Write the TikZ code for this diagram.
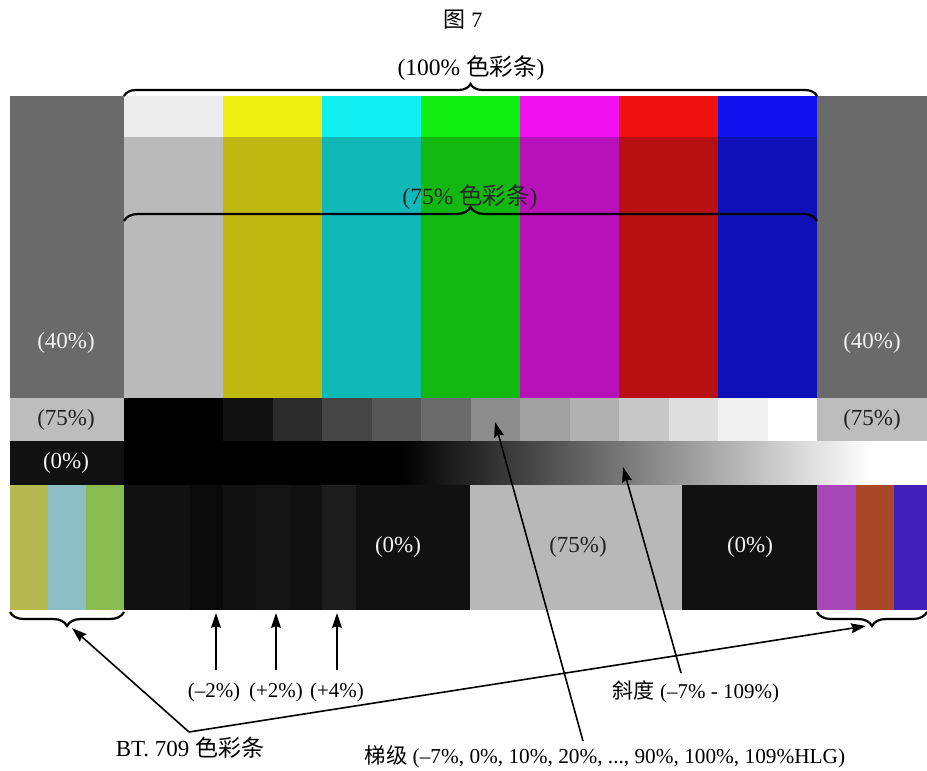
\documentclass[tikz,border=0pt]{standalone}
\usepackage{fontspec}
\setmainfont{Liberation Serif}
\newfontfamily\cjk{Noto Sans CJK SC}
\usetikzlibrary{decorations.pathreplacing,arrows.meta}
\definecolor{gL}{HTML}{6A6A6A}
\definecolor{wH}{HTML}{ECECEC}
\definecolor{yH}{HTML}{F0F010}
\definecolor{cH}{HTML}{10F0F0}
\definecolor{grH}{HTML}{10F010}
\definecolor{mH}{HTML}{F010F0}
\definecolor{rH}{HTML}{F01010}
\definecolor{bH}{HTML}{1010F0}
\definecolor{wS}{HTML}{BABABA}
\definecolor{yS}{HTML}{C0B810}
\definecolor{cS}{HTML}{10B8B8}
\definecolor{grS}{HTML}{10B810}
\definecolor{mS}{HTML}{B810B8}
\definecolor{rS}{HTML}{B81010}
\definecolor{bS}{HTML}{1010B8}
\definecolor{g75}{HTML}{BDBDBD}
\definecolor{blk}{HTML}{111111}
\definecolor{btA}{HTML}{B8B850}
\definecolor{btB}{HTML}{8CBCC4}
\definecolor{btC}{HTML}{88BB50}
\definecolor{btD}{HTML}{A848B8}
\definecolor{btE}{HTML}{A84828}
\definecolor{btF}{HTML}{4020B8}
\definecolor{txw}{HTML}{F2F2F2}
\definecolor{txd}{HTML}{222222}
\begin{document}
\begin{tikzpicture}[x=1pt,y=-1pt,
  lbw/.style={text=txw,font=\fontsize{23}{26}\selectfont,inner sep=0pt},
  lbd/.style={text=txd,font=\fontsize{23}{26}\selectfont,inner sep=0pt},
  lbk/.style={text=black,font=\fontsize{23.5}{27}\selectfont,inner sep=0pt},
  lbs/.style={text=black,font=\fontsize{21}{25}\selectfont,inner sep=0pt},
  bracelin/.style={decorate,decoration={brace,amplitude=#1},line width=2.2pt},
  arr/.style={-{Stealth[length=15pt,width=10pt,inset=2pt]},line width=1.6pt}]
\useasboundingbox (0,0) rectangle (927,771);
% side grey columns (40%)
\fill[gL] (10,96) rectangle (124,398);
\fill[gL] (817,96) rectangle (927,398);
% 100% bars
\foreach \c [count=\i from 0] in {wH,yH,cH,grH,mH,rH,bH}
  \fill[\c] (124+99*\i,96) rectangle (223+99*\i,137);
% 75% bars
\foreach \c [count=\i from 0] in {wS,yS,cS,grS,mS,rS,bS}
  \fill[\c] (124+99*\i,137) rectangle (223+99*\i,398);
% step row
\fill[g75] (10,398) rectangle (124,441);
\fill[g75] (817,398) rectangle (927,441);
\fill[black] (124,398) rectangle (223,441);
\foreach \v [count=\i from 0] in {7,17,27,34,42,55,63,69,78,87,94,100}
  \fill[white!\v!black] (223+49.5*\i,398) rectangle (272.5+49.5*\i,441);
% ramp row
\fill[blk] (10,441) rectangle (124,485);
\fill[black] (124,441) rectangle (401,485);
\shade[left color=black,right color=white] (400,441) rectangle (872,485);
\fill[white] (871,441) rectangle (927,485);
% bottom row
\fill[btA] (10,485) rectangle (48,610);
\fill[btB] (48,485) rectangle (86,610);
\fill[btC] (86,485) rectangle (124,610);
\fill[blk] (124,485) rectangle (470,610);
\fill[black!96] (190,485) rectangle (223,610);
\fill[white!8!black] (256,485) rectangle (290,610);
\fill[white!11!black] (322,485) rectangle (356,610);
\fill[white!72!black] (470,485) rectangle (682,610);
\fill[blk] (682,485) rectangle (817,610);
\fill[btD] (817,485) rectangle (856,610);
\fill[btE] (856,485) rectangle (894,610);
\fill[btF] (894,485) rectangle (927,610);
% labels in bars
\node[lbw] (l40a) at (66,343) {(40\%)};
\node[lbw] (l40b) at (872,343) {(40\%)};
\node[lbd] (l75a) at (66,420) {(75\%)};
\node[lbd] (l75b) at (872,420) {(75\%)};
\node[lbw] (l0a) at (66,463) {(0\%)};
\node[lbw] (l0b) at (398,547) {(0\%)};
\node[lbd] (l75c) at (578,547) {(75\%)};
\node[lbw] (l0c) at (750,547) {(0\%)};
% titles and braces
\node[lbs,font=\fontsize{22}{26}\selectfont] (title) at (463,20) {{\cjk 图} 7};
\node[lbk] (t100) at (471,68) {(100\% {\cjk 色彩条})};
\draw[bracelin=12pt] (124,96) -- (817,96);
\node[lbk,text=black!85] (t75) at (470,197) {(75\% {\cjk 色彩条})};
\draw[bracelin=14pt] (124,221) -- (817,221);
\draw[bracelin=14pt] (124,612) -- (10,612);
\draw[bracelin=14pt] (927,612) -- (817,612);
% bottom labels
\node[lbs] (pm2) at (214,692) {(–2\%)};
\node[lbs] (pp2) at (276,692) {(+2\%)};
\node[lbs] (pp4) at (337,692) {(+4\%)};
\node[lbs,font=\fontsize{23}{27}\selectfont] (bt) at (190,748) {BT. 709 {\cjk 色彩条}};
\node[lbs] (ramp) at (696,692) {{\cjk 斜度} (–7\% - 109\%)};
\node[lbs,font=\fontsize{21.3}{25}\selectfont] (steps) at (605,757) {{\cjk 梯级} (–7\%, 0\%, 10\%, 20\%, ..., 90\%, 100\%, 109\%HLG)};
% arrow coordinates
\coordinate (am2s) at (216,670); \coordinate (am2e) at (216,613);
\coordinate (ap2s) at (276,670); \coordinate (ap2e) at (276,613);
\coordinate (ap4s) at (337,670); \coordinate (ap4e) at (337,613);
\coordinate (btv) at (189,732);
\coordinate (btl) at (72,628);
\coordinate (btr) at (866,626);
\coordinate (rs) at (681,673); \coordinate (re) at (623,467);
\coordinate (ss) at (583,741); \coordinate (se) at (495,422);
\draw[arr] (am2s) -- (am2e);
\draw[arr] (ap2s) -- (ap2e);
\draw[arr] (ap4s) -- (ap4e);
\draw[arr] (btv) -- (btl);
\draw[arr] (btv) -- (btr);
\draw[arr] (rs) -- (re);
\draw[arr] (ss) -- (se);
\end{tikzpicture}
\end{document}
